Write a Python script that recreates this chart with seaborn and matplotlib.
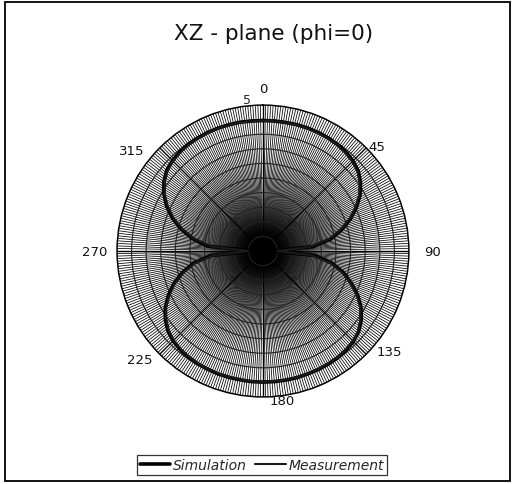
import numpy as np
import pandas as pd
import matplotlib
matplotlib.use("Agg")
import matplotlib.pyplot as plt
from matplotlib.patches import Rectangle
import seaborn as sns

# Radiation pattern, XZ plane (phi = 0), gain in dB every 5 degrees
angles_deg = list(range(0, 360, 5))
simulation_db = [
    -0.3, -0.3, -0.3, -0.2, -0.2, -0.2, -0.3, -0.5, -0.8, -1.4,
    -2.4, -4.2, -6.6, -9.7, -13.2, -17.2, -21.5, -28.0, -42.0, -27.0,
    -21.0, -16.5, -12.8, -9.2, -6.2, -3.9, -2.2, -1.2, -0.7, -0.4,
    -0.3, -0.2, -0.2, -0.1, -0.1, -0.1, -0.1, -0.1, -0.2, -0.2,
    -0.2, -0.3, -0.4, -0.6, -0.9, -1.5, -2.5, -4.2, -6.4, -9.3,
    -12.6, -16.4, -20.8, -27.0, -42.0, -26.0, -20.5, -16.0, -12.0, -8.6,
    -5.8, -3.6, -2.0, -1.2, -0.7, -0.4, -0.3, -0.2, -0.2, -0.2,
    -0.2, -0.3,
]
measurement_db = [
    -0.4, -0.4, -0.3, -0.3, -0.3, -0.4, -0.5, -0.7, -1.1, -1.7,
    -2.7, -4.5, -6.9, -10.1, -13.6, -17.8, -22.3, -29.0, -40.0, -28.5,
    -21.8, -17.0, -13.3, -9.6, -6.5, -4.2, -2.4, -1.4, -0.8, -0.5,
    -0.4, -0.3, -0.3, -0.2, -0.2, -0.2, -0.2, -0.2, -0.3, -0.3,
    -0.3, -0.4, -0.5, -0.8, -1.1, -1.7, -2.8, -4.5, -6.7, -9.7,
    -13.0, -17.0, -21.5, -28.0, -40.0, -27.5, -21.2, -16.6, -12.5, -9.0,
    -6.1, -3.9, -2.3, -1.4, -0.9, -0.6, -0.4, -0.3, -0.3, -0.3,
    -0.3, -0.4,
]
series_names = ["Simulation", "Measurement"]
angle_labels = ["0", "45", "90", "135", "180", "225", "270", "315"]
r_min, r_max = -45, 5
ring_levels = list(range(-40, 10, 5))

sns.set_theme(style="white")
plt.rcParams["font.family"] = ["DejaVu Sans"]

fig = plt.figure(figsize=(5.14, 4.85), dpi=100)
fig.patch.set_facecolor("white")
ax = fig.add_axes([0.2276, 0.1794, 0.568, 0.602], projection="polar")
ax.set_theta_zero_location("N")
ax.set_theta_direction(-1)

frames = []
for name, vals in zip(series_names, [simulation_db, measurement_db]):
    th = np.deg2rad(angles_deg + [360])
    frames.append(pd.DataFrame({"theta": th, "gain": vals + [vals[0]], "series": name}))
df = pd.concat(frames, ignore_index=True)

sns.lineplot(data=df[df.series == "Simulation"], x="theta", y="gain", sort=False,
             color="black", lw=2.6, ax=ax, label="Simulation", zorder=5)
sns.lineplot(data=df[df.series == "Measurement"], x="theta", y="gain", sort=False,
             color="#1a1a1a", lw=1.5, ax=ax, label="Measurement", zorder=6)

ax.set_ylim(r_min, r_max)
ax.set_yticks(ring_levels)
ax.set_yticklabels(["" if v != 5 else "5" for v in ring_levels], fontsize=9)
ax.set_rlabel_position(-8)

# dense spokes every degree; angle labels placed around the rim
ax.set_xticks(np.deg2rad(np.arange(0, 360, 45)))
ax.set_xticklabels([""] * len(angle_labels))
ax.set_xticks(np.deg2rad(np.arange(0, 360, 1.0)), minor=True)
ax.grid(True, which="minor", axis="x", color="#000000", lw=0.55)
ax.grid(True, which="major", axis="x", color="#000000", lw=1.0)
ax.grid(True, which="major", axis="y", color="#222222", lw=0.8)

label_spots = [(0, 10.5), (47.4, 8.1), (90, 12.9), (128.5, 10.5),
               (172.8, 6.7), (228.7, 11.2), (270, 12.5), (307.4, 11.5)]
for text, (ang, rad) in zip(angle_labels, label_spots):
    ax.text(np.deg2rad(ang), rad, text, ha="center", va="center", fontsize=9.5,
            color="#111111", clip_on=False)

ax.set_xlabel("")
ax.set_ylabel("")
ax.spines["polar"].set_color("black")
ax.spines["polar"].set_linewidth(1.0)
ax.set_facecolor("white")
if ax.get_legend():
    ax.get_legend().remove()

fig.text(274 / 514, 1 - 34 / 485, "XZ - plane (phi=0)", ha="center", va="center",
         fontsize=15.5, color="#111111")

handles, labels = ax.get_legend_handles_labels()
leg = fig.legend(handles, labels, loc="center", bbox_to_anchor=(262 / 514, 19 / 485),
                 ncol=2, frameon=True, fancybox=False, handlelength=2.2,
                 handletextpad=0.2, columnspacing=0.6, borderpad=0.2,
                 prop={"style": "italic", "size": 10})
leg.get_frame().set_edgecolor("black")
leg.get_frame().set_linewidth(0.9)

fig.add_artist(Rectangle((5 / 514, 3 / 485), 505 / 514, 479 / 485, transform=fig.transFigure,
                         fill=False, edgecolor="black", lw=1.3))

fig.savefig("out.png", dpi=100, facecolor="white")
